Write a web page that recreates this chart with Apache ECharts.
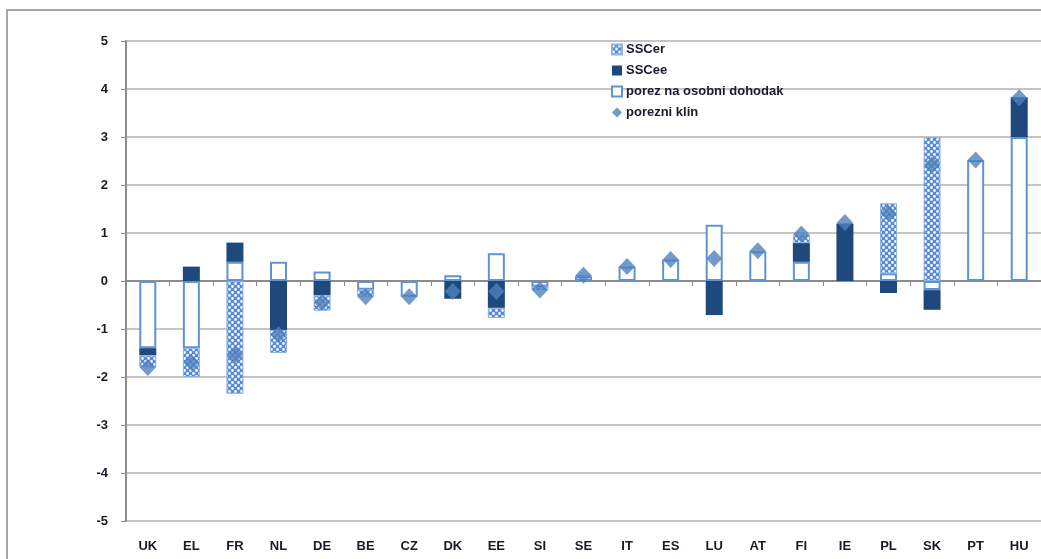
<!DOCTYPE html>
<html>
<head>
<meta charset="utf-8">
<script src="https://cdn.jsdelivr.net/npm/echarts@6/dist/echarts.min.js"></script>
<style>
  html, body { margin: 0; padding: 0; background: #fff; }
  #chart { width: 1041px; height: 559px; }
</style>
</head>
<body>
<div id="chart"></div>
<script>
const categories = ['UK', 'EL', 'FR', 'NL', 'DE', 'BE', 'CZ', 'DK', 'EE', 'SI', 'SE', 'IT', 'ES', 'LU', 'AT', 'FI', 'IE', 'PL', 'SK', 'PT', 'HU']
const porez = [-1.4, -1.4, 0.4, 0.4, 0.2, -0.18, -0.33, 0.12, 0.58, -0.12, 0.1, 0.3, 0.45, 1.17, 0.62, 0.4, null, 0.16, -0.19, 2.52, 3.0]
const sscee = [-0.15, 0.3, 0.4, -1.02, -0.3, null, null, -0.37, -0.56, null, null, null, null, -0.71, null, 0.39, 1.2, -0.25, -0.41, null, 0.83]
const sscer = [-0.25, -0.6, -2.35, -0.48, -0.32, -0.15, null, null, -0.21, -0.07, 0.02, null, null, null, null, 0.18, null, 1.46, 3.0, null, null]
const klin = [-1.8, -1.7, -1.54, -1.12, -0.45, -0.33, -0.33, -0.22, -0.22, -0.19, 0.12, 0.3, 0.45, 0.47, 0.63, 0.98, 1.22, 1.41, 2.42, 2.52, 3.82]
const yTicks = [-5, -4, -3, -2, -1, 0, 1, 2, 3, 4, 5]

const labelFont = {
  fontFamily: 'Liberation Sans Narrow, Liberation Sans, sans-serif',
  fontWeight: 'bold',
  fontSize: 13,
  color: '#1a1a2e'
}

// checkered fill for SSCer
const makePattern = () => {
  const c = document.createElement('canvas')
  c.width = 6
  c.height = 6
  const g = c.getContext('2d')
  g.fillStyle = '#5a8bcf'
  g.fillRect(0, 0, 6, 6)
  g.fillStyle = '#ffffff'
  g.beginPath()
  g.arc(1.5, 1.5, 1.4, 0, Math.PI * 2)
  g.arc(4.5, 4.5, 1.4, 0, Math.PI * 2)
  g.fill()
  return c
}

const chart = echarts.init(document.getElementById('chart'))

const option = {
  animation: false,
  grid: { left: 126, right: -3, top: 41, bottom: 38 },
  // outer frame of the chart area
  graphic: [
    {
      type: 'rect',
      silent: true,
      shape: { x: 7, y: 10, width: 1100, height: 600 },
      style: { fill: 'none', stroke: '#a6a6a6', lineWidth: 2 }
    }
  ],
  legend: {
    orient: 'vertical',
    left: 606,
    top: 38,
    itemWidth: 10,
    itemHeight: 10,
    itemGap: 8,
    data: [
      { name: 'SSCer', icon: 'rect' },
      { name: 'SSCee', icon: 'rect' },
      { name: 'porez na osobni dohodak', icon: 'rect' },
      { name: 'porezni klin', icon: 'diamond' }
    ],
    textStyle: Object.assign({}, labelFont, { fontSize: 13, lineHeight: 13, padding: [0, 0, 0, -1] })
  },
  xAxis: [
    {
      type: 'category',
      data: categories,
      position: 'bottom',
      axisLine: { show: false, onZero: false },
      axisTick: { show: false },
      axisLabel: Object.assign({ margin: 19 }, labelFont)
    },
    {
      type: 'category',
      data: categories,
      position: 'bottom',
      axisLine: { show: true, onZero: true, lineStyle: { color: '#8c8c8c', width: 2 } },
      axisTick: { show: true, length: 5, lineStyle: { color: '#8c8c8c' } },
      axisLabel: { show: false }
    }
  ],
  yAxis: {
    type: 'value',
    min: yTicks[0],
    max: yTicks[yTicks.length - 1],
    interval: 1,
    axisLine: { show: true, lineStyle: { color: '#8c8c8c', width: 2 } },
    axisTick: { show: true, length: 5, lineStyle: { color: '#8c8c8c' } },
    axisLabel: Object.assign({ margin: 18 }, labelFont),
    splitLine: { lineStyle: { color: '#c4c4c4', width: 2 } }
  },
  series: [
    {
      name: 'porez na osobni dohodak',
      type: 'bar',
      stack: 'w',
      barWidth: 17,
      data: porez,
      itemStyle: { color: '#ffffff', borderColor: '#5f93d3', borderWidth: 2 }
    },
    {
      name: 'SSCee',
      type: 'bar',
      stack: 'w',
      barWidth: 17,
      data: sscee,
      itemStyle: { color: '#1f497d' }
    },
    {
      name: 'SSCer',
      type: 'bar',
      stack: 'w',
      barWidth: 17,
      data: sscer,
      itemStyle: { color: { image: makePattern(), repeat: 'repeat' }, borderColor: '#8fb2e0', borderWidth: 1 }
    },
    {
      name: 'porezni klin',
      type: 'scatter',
      symbol: 'diamond',
      symbolSize: [16, 17],
      data: klin,
      z: 5,
      itemStyle: { color: '#4f81bd' }
    }
  ]
}

chart.setOption(option)
</script>
</body>
</html>
